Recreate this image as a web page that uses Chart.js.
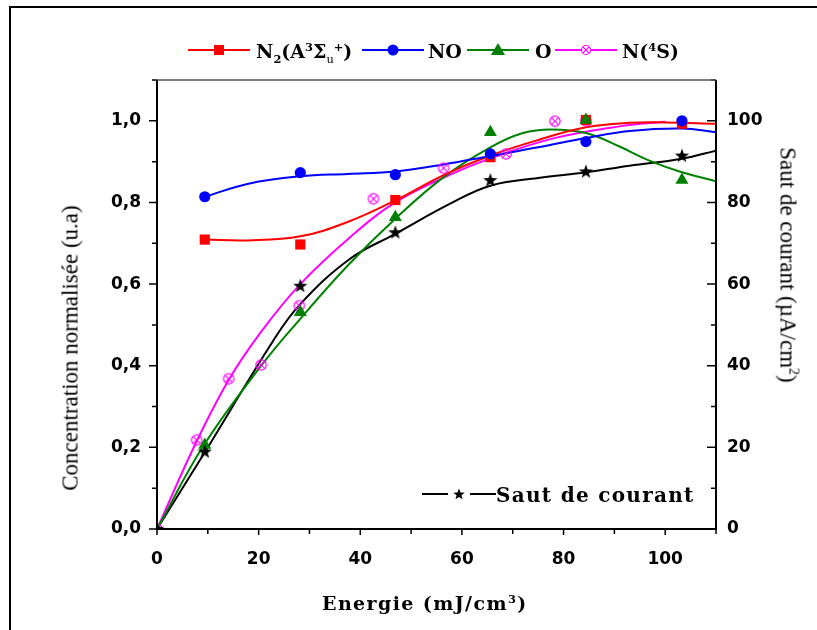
<!DOCTYPE html>
<html>
<head>
<meta charset="utf-8">
<script src="https://cdn.jsdelivr.net/npm/chart.js@4.4.0/dist/chart.umd.min.js"></script>
<style>
  body { margin: 0; background: #fff; }
  #wrap { position: relative; width: 817px; height: 630px; overflow: hidden; background: #fff; }
  #frame { position: absolute; left: 9px; top: 6px; width: 900px; height: 700px; border: 2px solid #000; }
  #chart { position: absolute; left: 0; top: 0; }
  .t { position: absolute; white-space: nowrap; color: #000; font-family: "DejaVu Serif", serif; font-weight: bold; line-height: 1; }
  .leg { position: absolute; }
  .ytitle { position: absolute; white-space: nowrap; font-family: "Liberation Serif", serif; font-size: 23px; color: #000; line-height: 1; }
  sup, sub { font-size: 0.6em; line-height: 0; }
</style>
</head>
<body>
<div id="wrap">
  <div id="frame"></div>
  <canvas id="chart" width="817" height="630"></canvas>

  <!-- top legend -->
  <svg class="leg" style="left:186px;top:42px" width="66" height="16"><line x1="2" y1="8" x2="64" y2="8" stroke="#ff0000" stroke-width="2"/><rect x="28" y="3" width="10" height="10" fill="#ff0000"/></svg>
  <div class="t" style="left:256px;top:42px;font-size:19px">N<sub>2</sub>(A<sup>3</sup>Σ<sub style="font-weight:normal">u</sub><sup>+</sup>)</div>
  <svg class="leg" style="left:360px;top:42px" width="66" height="16"><line x1="2" y1="8" x2="64" y2="8" stroke="#0000ff" stroke-width="2"/><circle cx="33" cy="8" r="5.5" fill="#0000ff"/></svg>
  <div class="t" style="left:428px;top:42px;font-size:19px">NO</div>
  <svg class="leg" style="left:465px;top:42px" width="66" height="16"><line x1="2" y1="8" x2="64" y2="8" stroke="#008000" stroke-width="2"/><polygon points="33,1 40,13 26,13" fill="#008000"/></svg>
  <div class="t" style="left:535px;top:42px;font-size:19px">O</div>
  <svg class="leg" style="left:553px;top:42px" width="66" height="16"><line x1="2" y1="8" x2="64" y2="8" stroke="#ff00ff" stroke-width="2"/><circle cx="33" cy="8" r="4.5" fill="#fff" stroke="#ff00ff" stroke-width="1.2"/><path d="M29.8 4.8 L36.2 11.2 M36.2 4.8 L29.8 11.2" stroke="#ff00ff" stroke-width="1.2"/></svg>
  <div class="t" style="left:622px;top:42px;font-size:19px">N(<sup>4</sup>S)</div>

  <!-- legend in plot -->
  <svg class="leg" style="left:420px;top:486px" width="78" height="16"><line x1="2" y1="8" x2="28" y2="8" stroke="#000" stroke-width="2"/><line x1="50" y1="8" x2="76" y2="8" stroke="#000" stroke-width="2"/><polygon id="legstar" fill="#000"/></svg>
  <div class="t" style="left:496px;top:485px;font-size:20px;letter-spacing:1.3px">Saut de courant</div>

  <!-- axis titles -->
  <div class="t" id="xtitle" style="left:322px;top:594px;font-size:19px;letter-spacing:1.4px">Energie (mJ/cm<sup>3</sup>)</div>
  <div class="ytitle" style="left:70px;top:348px;transform:translate(-50%,-50%) rotate(-90deg)">Concentration normalisée (u.a)</div>
  <div class="ytitle" style="left:788px;top:265px;transform:translate(-50%,-50%) rotate(90deg)">Saut de courant (µA/cm<sup>2</sup>)</div>
</div>

<script>
// --- Data ---
// measured points, x = Energie (mJ/cm3)
const xMes = [9.4, 28.2, 46.9, 65.6, 84.4, 103.3];
const n2Mes = [0.709, 0.697, 0.806, 0.911, 1.002, 0.993];
const noMes = [0.814, 0.873, 0.868, 0.919, 0.949, 1.0];
const xMes0 = [0, 9.4, 28.2, 46.9, 65.6, 84.4, 103.3];
const oMes = [0, 0.206, 0.531, 0.764, 0.972, 1.002, 0.855];
const sautMes = [0, 19.0, 59.6, 72.7, 85.5, 87.6, 91.5]; // µA/cm2, right axis
const xN4s = [0, 7.8, 14.1, 20.5, 28.0, 42.6, 56.4, 68.7, 78.3, 84.4];
const n4sMes = [0, 0.218, 0.368, 0.402, 0.547, 0.809, 0.884, 0.919, 0.999, 1.0];

// fitted curves
const xFitN2 = [9.4, 18, 28.2, 37.5, 46.9, 56.4, 65.6, 75, 84.4, 93, 100, 110];
const n2Fit = [0.709, 0.707, 0.717, 0.752, 0.805, 0.867, 0.915, 0.953, 0.984, 0.995, 0.996, 0.993];
const xFitNo = [9.4, 18, 28.2, 37.5, 46.9, 56.4, 65.6, 75, 84.4, 93, 103.3, 110];
const noFit = [0.814, 0.846, 0.864, 0.870, 0.876, 0.893, 0.914, 0.935, 0.958, 0.975, 0.981, 0.972];
const xFitO = [0, 9.2, 20.5, 28.2, 37.5, 46.9, 56.4, 65.6, 72, 77.5, 84.4, 91, 97, 103.3, 110];
const oFit = [0, 0.205, 0.40, 0.515, 0.645, 0.76, 0.862, 0.935, 0.970, 0.979, 0.970, 0.937, 0.902, 0.874, 0.852];
const xFitN4s = [0, 7.8, 14.1, 20.3, 28.2, 38, 46.9, 57.7, 65.6, 78, 91.3, 100];
const n4sFit = [0, 0.215, 0.365, 0.48, 0.6, 0.715, 0.8, 0.868, 0.908, 0.957, 0.987, 0.998];
const xFitSaut = [0, 9.5, 22.9, 28.2, 38, 46.9, 57.7, 65.6, 75, 84.5, 93, 103.3, 110];
const sautFit = [0, 19.0, 46.2, 55.1, 66.2, 72.3, 79.7, 84.1, 86.0, 87.4, 89.0, 90.7, 92.7];

// axis tick labels
const xTickLabels = [0, 20, 40, 60, 80, 100];
const yTickLabels = ["0,0", "0,2", "0,4", "0,6", "0,8", "1,0"];
const y2TickLabels = [0, 20, 40, 60, 80, 100];

// --- helpers ---
const pts = (xs, ys) => xs.map((x, i) => ({ x, y: ys[i] }));

function starPath(ctx, cx, cy, R, r) {
  ctx.beginPath();
  for (let i = 0; i < 10; i++) {
    const a = -Math.PI / 2 + (i * Math.PI) / 5;
    const rr = i % 2 ? r : R;
    ctx.lineTo(cx + rr * Math.cos(a), cy + rr * Math.sin(a));
  }
  ctx.closePath();
}

function starMark() {
  const c = document.createElement("canvas");
  c.width = c.height = 16;
  const g = c.getContext("2d");
  starPath(g, 8, 8.5, 7.5, 3);
  g.fillStyle = "#000";
  g.fill();
  return c;
}

function crossCircleMark() {
  const c = document.createElement("canvas");
  c.width = c.height = 14;
  const g = c.getContext("2d");
  g.strokeStyle = "#ff00ff";
  g.lineWidth = 1.2;
  g.beginPath();
  g.arc(7, 7, 5.2, 0, Math.PI * 2);
  g.stroke();
  g.beginPath();
  g.moveTo(3.4, 3.4); g.lineTo(10.6, 10.6);
  g.moveTo(10.6, 3.4); g.lineTo(3.4, 10.6);
  g.stroke();
  return c;
}

// legend star polygon
(function () {
  const p = [];
  for (let i = 0; i < 10; i++) {
    const a = -Math.PI / 2 + (i * Math.PI) / 5;
    const rr = i % 2 ? 2.6 : 6;
    p.push((39 + rr * Math.cos(a)).toFixed(2) + "," + (8.5 + rr * Math.sin(a)).toFixed(2));
  }
  document.getElementById("legstar").setAttribute("points", p.join(" "));
})();

const fitLine = (data, color, axis, order) => ({
  type: "line",
  data,
  yAxisID: axis,
  borderColor: color,
  borderWidth: 2,
  pointRadius: 0,
  fill: false,
  tension: 0.4,
  order,
});

const marks = (data, color, style, radius, axis, order) => ({
  type: "scatter",
  data,
  yAxisID: axis,
  showLine: false,
  pointStyle: style,
  pointRadius: radius,
  pointHoverRadius: radius,
  backgroundColor: color,
  borderColor: color,
  borderWidth: 0,
  order,
});

const tickFont = { family: "DejaVu Sans", weight: "bold", size: 17 };

// ticks + axis lines, drawn from the chart's own scales
const axesPlugin = {
  id: "axesPlugin",
  afterDraw(chart) {
    const { ctx, chartArea: a, scales } = chart;
    ctx.save();
    ctx.strokeStyle = "#000";
    ctx.lineWidth = 1.5;
    ctx.beginPath();
    scales.x.ticks.forEach((t) => {
      const px = scales.x.getPixelForValue(t.value);
      const len = t.value % 20 === 0 ? 6 : 5;
      ctx.moveTo(px, a.bottom);
      ctx.lineTo(px, a.bottom + len);
    });
    scales.y.ticks.forEach((t) => {
      const py = scales.y.getPixelForValue(t.value);
      const len = Math.round(t.value * 10) % 2 === 0 ? 8 : 5;
      ctx.moveTo(a.left - len, py);
      ctx.lineTo(a.left, py);
    });
    scales.y2.ticks.forEach((t) => {
      const py = scales.y2.getPixelForValue(t.value);
      const len = t.value % 20 === 0 ? 9 : 5;
      ctx.moveTo(a.right - len, py);
      ctx.lineTo(a.right, py);
    });
    ctx.stroke();
    ctx.lineWidth = 2;
    ctx.beginPath();
    ctx.moveTo(a.left, a.top);
    ctx.lineTo(a.left, a.bottom);
    ctx.lineTo(a.right, a.bottom);
    ctx.lineTo(a.right, a.top);
    ctx.stroke();
    ctx.strokeStyle = "#555";
    ctx.lineWidth = 1.5;
    ctx.beginPath();
    ctx.moveTo(a.left, a.top);
    ctx.lineTo(a.right, a.top);
    ctx.stroke();
    ctx.restore();
  },
};

new Chart(document.getElementById("chart"), {
  data: {
    datasets: [
      fitLine(pts(xFitN4s, n4sFit), "#ff00ff", "y", 9),
      fitLine(pts(xFitSaut, sautFit), "#000000", "y2", 8),
      fitLine(pts(xFitO, oFit), "#008000", "y", 7),
      fitLine(pts(xFitN2, n2Fit), "#ff0000", "y", 6),
      fitLine(pts(xFitNo, noFit), "#0000ff", "y", 5),
      marks(pts(xN4s, n4sMes), "#ff00ff", crossCircleMark(), 6, "y", 4),
      marks(pts(xMes, n2Mes), "#ff0000", "rect", 7.2, "y", 3),
      marks(pts(xMes0, oMes), "#008000", "triangle", 7.5, "y", 2),
      marks(pts(xMes, noMes), "#0000ff", "circle", 5.6, "y", 1),
      marks(pts(xMes0, sautMes), "#000000", starMark(), 7, "y2", 0),
    ],
  },
  options: {
    responsive: false,
    animation: false,
    devicePixelRatio: 1,
    layout: { padding: { top: 80, left: 0, right: 0, bottom: 0 } },
    plugins: { legend: { display: false }, tooltip: { enabled: false } },
    scales: {
      x: {
        type: "linear",
        position: "bottom",
        min: 0,
        max: 110,
        grid: { display: false, drawTicks: false },
        border: { display: false },
        ticks: {
          stepSize: 10,
          autoSkip: false,
          maxRotation: 0,
          padding: 20,
          color: "#000",
          font: tickFont,
          callback: (v) => (xTickLabels.includes(v) ? String(v) : ""),
        },
        afterFit: (s) => { s.height = 101; },
      },
      y: {
        type: "linear",
        position: "left",
        min: 0,
        max: 1.1,
        grid: { display: false, drawTicks: false },
        border: { display: false },
        ticks: {
          stepSize: 0.1,
          autoSkip: false,
          padding: 16,
          color: "#000",
          font: tickFont,
          callback: (v) => {
            const k = Math.round(v * 10);
            return k % 2 === 0 && k / 2 < yTickLabels.length ? yTickLabels[k / 2] : "";
          },
        },
        afterFit: (s) => { s.width = 157; },
      },
      y2: {
        type: "linear",
        position: "right",
        min: 0,
        max: 110,
        grid: { display: false, drawTicks: false },
        border: { display: false },
        ticks: {
          stepSize: 10,
          autoSkip: false,
          padding: 11,
          color: "#000",
          font: tickFont,
          callback: (v) => (y2TickLabels.includes(v) ? String(v) : ""),
        },
        afterFit: (s) => { s.width = 101; },
      },
    },
  },
  plugins: [axesPlugin],
});
</script>
</body>
</html>
